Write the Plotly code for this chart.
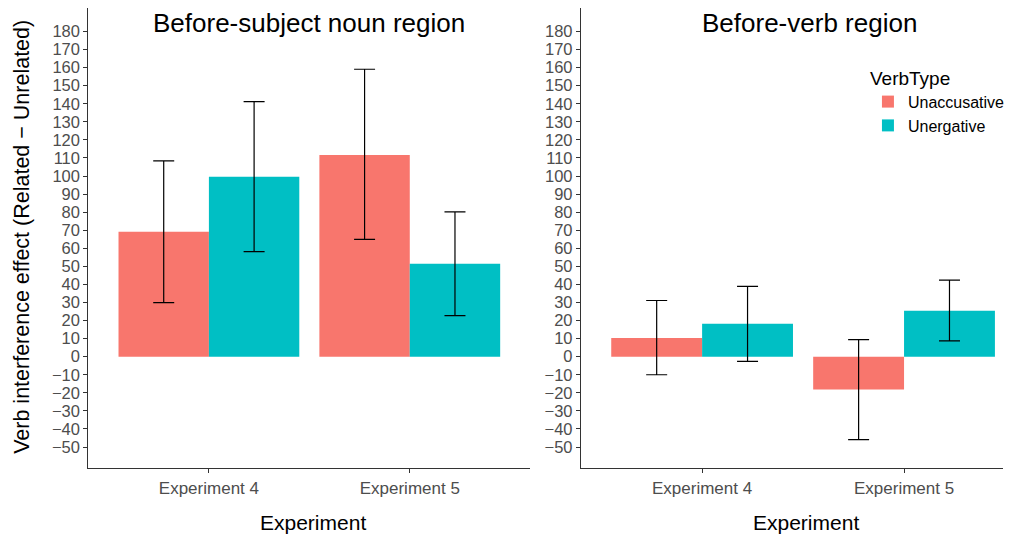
import plotly.graph_objects as go

experiments = ["Experiment 4", "Experiment 5"]
verb_types = ["Unaccusative", "Unergative"]
colors = {"Unaccusative": "#F8766D", "Unergative": "#00BFC4"}

# Before-subject noun region
subj_unacc = [69.1, 111.7]
subj_unacc_lo = [29.9, 64.9]
subj_unacc_hi = [108.4, 159.1]
subj_unerg = [99.6, 51.4]
subj_unerg_lo = [58.2, 22.7]
subj_unerg_hi = [141.2, 80.2]

# Before-verb region
verb_unacc = [10.3, -18.1]
verb_unacc_lo = [-10.0, -45.9]
verb_unacc_hi = [31.1, 9.4]
verb_unerg = [18.3, 25.4]
verb_unerg_lo = [-2.6, 8.8]
verb_unerg_hi = [38.9, 42.4]

yticks = list(range(-50, 181, 10))

FONT = "Liberation Sans, Arial, sans-serif"
W, H = 1010, 535


def bar(name, y, lo, hi, xa, ya, show):
    return go.Bar(
        x=experiments, y=y, name=name, marker_color=colors[name],
        marker_line_width=0, xaxis=xa, yaxis=ya, showlegend=show,
        legendgroup=name, offsetgroup=name,
        error_y=dict(type="data", symmetric=False,
                     array=[h - v for h, v in zip(hi, y)],
                     arrayminus=[v - l for v, l in zip(y, lo)],
                     color="black", thickness=1.2, width=10.5),
    )


fig = go.Figure()
fig.add_trace(bar("Unaccusative", subj_unacc, subj_unacc_lo, subj_unacc_hi, "x", "y", True))
fig.add_trace(bar("Unergative", subj_unerg, subj_unerg_lo, subj_unerg_hi, "x", "y", True))
fig.add_trace(bar("Unaccusative", verb_unacc, verb_unacc_lo, verb_unacc_hi, "x2", "y2", False))
fig.add_trace(bar("Unergative", verb_unerg, verb_unerg_lo, verb_unerg_hi, "x2", "y2", False))

ydom = [1 - 468 / H, 1 - 8 / H]
xax = dict(type="category", showline=True, linecolor="#333333", linewidth=1.2,
           ticks="outside", ticklen=4, tickcolor="#333333", showgrid=False,
           zeroline=False, tickfont=dict(size=17, color="#4D4D4D", family=FONT))
yax = dict(range=[-61.6, 193], tickvals=yticks, showline=True, linecolor="#333333",
           linewidth=1.2, ticks="outside", ticklen=4, tickcolor="#333333",
           showgrid=False, zeroline=False, domain=ydom,
           tickfont=dict(size=16.5, color="#4D4D4D", family=FONT))

fig.update_layout(
    width=W, height=H, margin=dict(l=0, r=0, t=0, b=0),
    plot_bgcolor="white", paper_bgcolor="white",
    barmode="group", bargap=0.1, bargroupgap=0,
    font=dict(family=FONT),
    xaxis=dict(xax, domain=[89 / W, 534 / W], range=[-0.6, 1.6], anchor="y"),
    xaxis2=dict(xax, domain=[585 / W, 1.0], range=[-0.6, 1.49], anchor="y2"),
    yaxis=dict(yax, anchor="x"),
    yaxis2=dict(yax, anchor="x2"),
    legend=dict(x=874 / W, y=1 - 60 / H, xanchor="left", yanchor="top",
                title=dict(text="VerbType", font=dict(size=19, color="black")),
                font=dict(size=16, color="black"), bgcolor="rgba(0,0,0,0)",
                tracegroupgap=0, itemsizing="constant"),
    showlegend=True,
)


def label(text, x, y, size, angle=0):
    fig.add_annotation(text=text, x=x / W, y=1 - y / H, xref="paper", yref="paper",
                       xanchor="center", yanchor="middle", showarrow=False,
                       textangle=angle, font=dict(size=size, color="black"))


label("Before-subject noun region", 311, 23, 26)
label("Before-verb region", 815, 23, 26)
label("Verb interference effect (Related \u2212 Unrelated)", 22, 237, 21.5, -90)
label("Experiment", 315, 522, 21)
label("Experiment", 812, 522, 21)

fig.write_html(
    "out.html", config={"displayModeBar": False},
    post_script="document.body.style.margin='0';"
                "document.body.style.overflow='hidden';"
                "document.documentElement.style.overflow='hidden';")
